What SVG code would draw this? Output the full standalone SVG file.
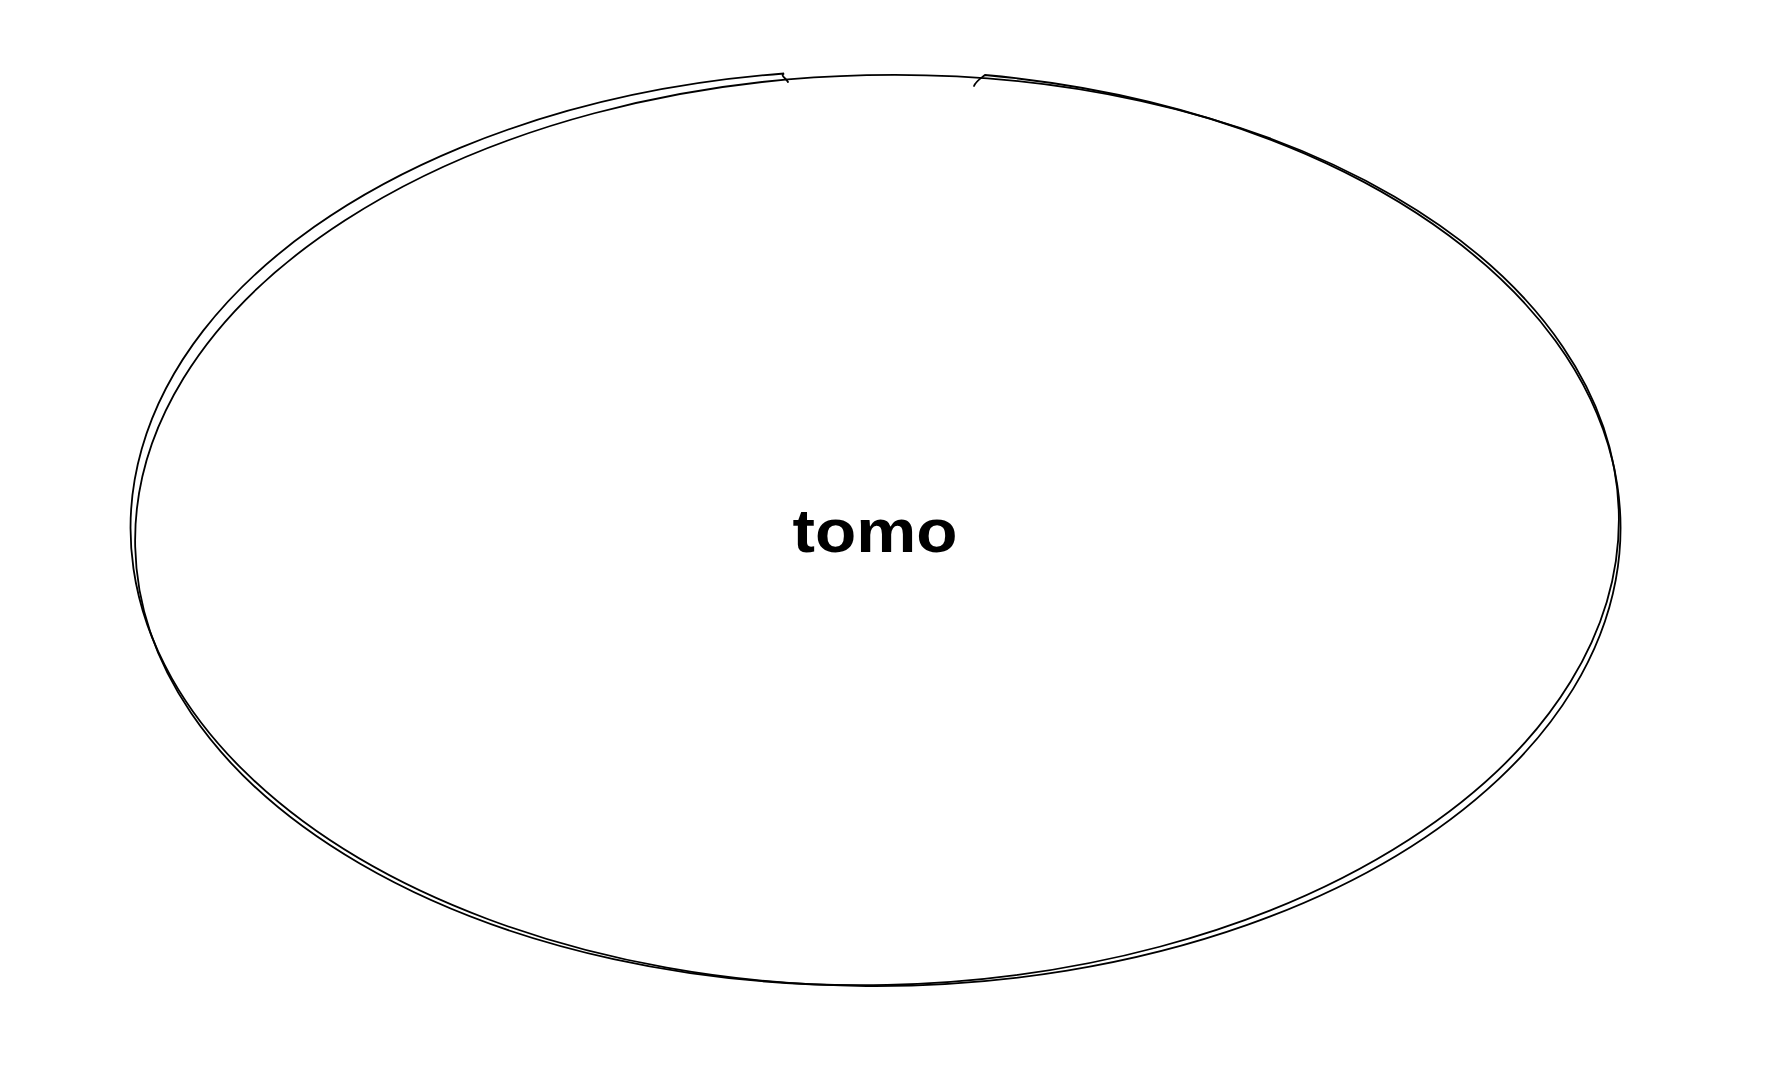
<svg xmlns="http://www.w3.org/2000/svg" width="1787" height="1087" viewBox="0 0 1787 1087">
<style>
.stroke{fill:none;stroke:#000;stroke-width:1.8;stroke-linecap:round}
.lbl{font-family:"Liberation Sans","DejaVu Sans",sans-serif;font-size:62px;font-weight:bold;fill:#000}
</style>
<rect width="1787" height="1087" fill="#fff"/>
<g id="node-tomo">
<path class="stroke" d="M 974 86 C 976 81 980 79 985 75 A 745 458 0 1 1 784 73.5 C 780 76 786 78 788 82"/>
<ellipse class="stroke" cx="877" cy="530" rx="742" ry="455" transform="rotate(-1.3 877 530)"/>
</g>
<g id="connectors"></g>
<text class="lbl" x="875" y="552" text-anchor="middle" textLength="165" lengthAdjust="spacingAndGlyphs">tomo</text>
</svg>
